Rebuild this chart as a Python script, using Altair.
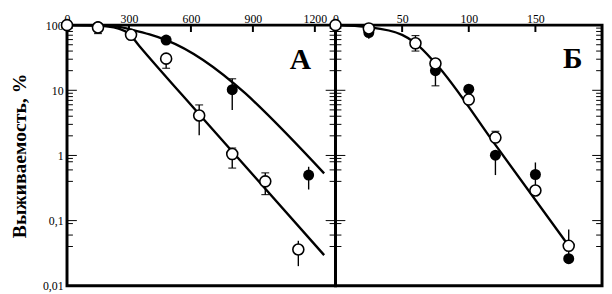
import altair as alt
import pandas as pd

# ---------------- data ----------------
# Panel А (x axis 0..1300)
a_open_x = [0, 150, 310, 480, 640, 800, 960, 1120]
a_open_y = [100, 92, 71, 30.6, 4.1, 1.05, 0.40, 0.036]
a_filled_x = [0, 150, 480, 800, 1170]
a_filled_y = [100, 95, 59, 10.2, 0.50]

a_err_x = [150, 480, 640, 800, 960, 1120, 800, 1170]
a_err_lo = [74, 21.8, 2.04, 0.64, 0.25, 0.020, 5.0, 0.30]
a_err_hi = [92, 30.6, 5.96, 1.30, 0.54, 0.049, 15, 0.67]
a_cap_x = [150, 480, 640, 800, 800, 960, 960, 800]
a_cap_y = [74, 21.8, 5.96, 0.64, 1.30, 0.25, 0.54, 15]

a_curve1_x = [0, 100, 200, 250, 300, 350, 640, 1245]
a_curve1_y = [100, 99, 95, 88, 74, 48, 4.3, 0.0295]
a_curve2_x = [0, 150, 250, 320, 400, 480, 1245]
a_curve2_y = [100, 99, 94, 84, 72, 59, 0.53]

# Panel Б (x axis 0..200)
b_open_x = [0, 25, 60, 75, 100, 120, 150, 175]
b_open_y = [100, 89, 52.6, 25.8, 7.2, 1.88, 0.29, 0.041]
b_filled_x = [0, 25, 60, 75, 100, 120, 150, 175]
b_filled_y = [100, 77, 52, 20, 10.4, 1.01, 0.51, 0.026]

b_err_x = [25, 60, 75, 120, 120, 150, 175]
b_err_lo = [62, 40, 11.7, 1.88, 0.50, 0.29, 0.026]
b_err_hi = [77, 69, 20, 2.35, 1.01, 0.78, 0.073]
b_cap_x = [60, 60, 75, 120]
b_cap_y = [40, 69, 11.7, 2.35]

b_curve_x = [0, 25, 50, 60, 75, 120, 175]
b_curve_y = [100, 93, 71, 53, 26, 1.45, 0.041]

# axes
y_major = [0.01, 0.1, 1, 10, 100]
y_major_labels = ["0,01", "0,1", "1", "10", "100"]
y_minor = [20, 30, 40, 50, 60, 70, 80, 90, 2, 3, 4, 5, 6, 7, 8, 9,
           0.4, 0.6, 0.8, 0.9, 0.04, 0.06, 0.09]
a_xticks = [0, 300, 600, 900, 1200]
a_xminor = [300, 600, 900, 1200]
b_xticks = [0, 50, 100, 150]
b_xminor = [50, 100, 150]
y_title = "Выживаемость, %"
panel_names = ["А", "Б"]
a_label_pos = (1130, 21)
b_label_pos = (178, 22)

FONT = "Liberation Serif"
WA, WB, H = 273, 271, 265
Y_DOMAIN = [0.01, 100]
MAJOR_LEN, MINOR_LEN, TOP_LEN = 10, 6, 7   # pixels

label_expr = " : ".join(
    f"abs(datum.value - {v}) < 1e-9 ? '{l}'" for v, l in zip(y_major, y_major_labels)
) + " : ''"


def panel(width, xdomain, xticks, xminor, open_x, open_y, filled_x, filled_y,
          err_x, err_lo, err_hi, cap_x, cap_y, curves, name, name_pos, show_y):
    xs = alt.Scale(domain=xdomain, nice=False, zero=False)
    ys = alt.Scale(type="log", domain=Y_DOMAIN, nice=False)
    xaxis = alt.Axis(orient="top", values=xticks, ticks=False, tickSize=0, domain=False,
                     grid=False, format="d", minExtent=0,
                     labelFont=FONT, labelFontSize=12, labelPadding=0, labelFlush=False,
                     labelColor="black", title=None)
    if show_y:
        yaxis = alt.Axis(orient="left", values=y_major, labelExpr=label_expr, ticks=False,
                         tickSize=0, minExtent=0,
                         domain=False, grid=False, labelFont=FONT, labelFontSize=12,
                         labelPadding=4, labelColor="black", title=y_title,
                         titleFont=FONT, titleFontSize=20, titleFontWeight="bold",
                         titleColor="black", titlePadding=13)
    else:
        yaxis = None

    X = lambda f: alt.X(f, type="quantitative", scale=xs, axis=xaxis)
    Y = lambda f: alt.Y(f, type="quantitative", scale=ys, axis=yaxis)

    span = xdomain[1] - xdomain[0]
    # frame tick segments, same mechanism as the error-bar caps (x, y fields + tick size)
    tick_x, tick_y, tick_len = [], [], []
    for vals, ln in ((y_major, MAJOR_LEN), (y_minor, MINOR_LEN)):
        half = span * (ln / 2) / width
        for v in vals:
            tick_x += [xdomain[0] + half, xdomain[1] - half]
            tick_y += [v, v]
            tick_len += [ln, ln]
    dec = 10 ** (-(TOP_LEN / H) * 4)

    # error bars + top frame ticks share the vertical-rule layer
    edf = pd.DataFrame({"x": list(err_x) + list(xminor),
                        "lo": list(err_lo) + [Y_DOMAIN[1] * dec] * len(xminor),
                        "hi": list(err_hi) + [Y_DOMAIN[1]] * len(xminor),
                        "w": [1.4] * len(err_x) + [2.0] * len(xminor)})
    kdf = pd.DataFrame({"x": list(cap_x), "y": list(cap_y), "len": [8] * len(cap_x),
                        "w": [1.4] * len(cap_x)})
    fdf_t = pd.DataFrame({"x": tick_x, "y": tick_y, "len": tick_len, "w": [2.0] * len(tick_x)})
    kdf = pd.concat([kdf, fdf_t], ignore_index=True)

    layers = []
    cdf = pd.concat([pd.DataFrame({"x": cx, "y": cy, "s": i}) for i, (cx, cy) in enumerate(curves)])
    layers.append(alt.Chart(cdf).mark_line(color="black", strokeWidth=2.4, interpolate="monotone")
                  .encode(x=X("x"), y=Y("y"), detail="s:N"))
    layers.append(alt.Chart(edf).mark_rule(color="black")
                  .encode(x=X("x"), y=Y("lo"), y2="hi",
                          strokeWidth=alt.StrokeWidth("w:Q", scale=None)))
    layers.append(alt.Chart(kdf).mark_tick(orient="horizontal", color="black", opacity=1)
                  .encode(x=X("x"), y=Y("y"),
                          size=alt.Size("len:Q", scale=None),
                          strokeWidth=alt.StrokeWidth("w:Q", scale=None)))
    fdf = pd.DataFrame({"x": filled_x, "y": filled_y})
    layers.append(alt.Chart(fdf).mark_circle(color="black", size=125, opacity=1)
                  .encode(x=X("x"), y=Y("y")))
    odf = pd.DataFrame({"x": open_x, "y": open_y})
    layers.append(alt.Chart(odf).mark_point(shape="circle", size=125, fill="white",
                                            stroke="black", strokeWidth=1.6, opacity=1,
                                            fillOpacity=1, filled=False)
                  .encode(x=X("x"), y=Y("y")))
    ndf = pd.DataFrame({"x": [name_pos[0]], "y": [name_pos[1]], "t": [name]})
    layers.append(alt.Chart(ndf).mark_text(font=FONT, fontSize=30, fontWeight="bold",
                                           color="black", baseline="alphabetic", align="center")
                  .encode(x=X("x"), y=Y("y"), text="t:N"))
    return alt.layer(*layers).properties(width=width, height=H)


pa = panel(WA, [0, 1300], a_xticks, a_xminor, a_open_x, a_open_y, a_filled_x, a_filled_y,
           a_err_x, a_err_lo, a_err_hi, a_cap_x, a_cap_y,
           [(a_curve1_x, a_curve1_y), (a_curve2_x, a_curve2_y)], panel_names[0], a_label_pos, True)
pb = panel(WB, [0, 200], b_xticks, b_xminor, b_open_x, b_open_y, b_filled_x, b_filled_y,
           b_err_x, b_err_lo, b_err_hi, b_cap_x, b_cap_y,
           [(b_curve_x, b_curve_y)], panel_names[1], b_label_pos, False)

chart = (alt.hconcat(pa, pb, spacing=0, bounds="flush")
         .properties(padding={"left": 0, "top": 0, "right": 0, "bottom": 0}, background="white")
         .configure_view(stroke="black", strokeWidth=3))

chart.save("out.html", embed_options={"renderer": "svg", "actions": False})
